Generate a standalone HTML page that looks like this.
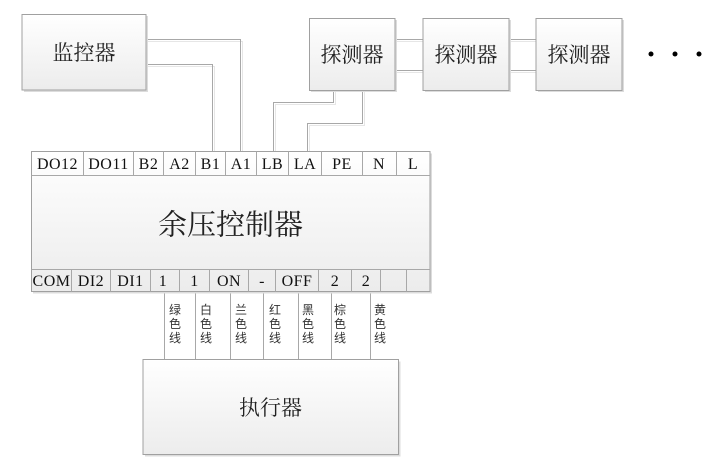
<!DOCTYPE html>
<html><head><meta charset="utf-8">
<style>
html,body{margin:0;padding:0;background:#fff;}
svg{display:block;}
.t{font-family:"Liberation Serif","Noto Serif CJK SC",serif;font-size:16px;fill:#111;text-anchor:middle;letter-spacing:0.5px;}
.c{font-family:"Noto Serif CJK SC","Noto Serif CJK JP","Noto Serif CJK","Liberation Serif",serif;fill:#222;text-anchor:middle;dominant-baseline:central;}
.w{font-family:"Liberation Sans","Noto Sans CJK SC",sans-serif;font-size:12px;fill:#333;}
</style></head>
<body>
<svg width="720" height="468" viewBox="0 0 720 468" xmlns="http://www.w3.org/2000/svg">
<defs>
<linearGradient id="g" x1="0" y1="0" x2="0" y2="1">
<stop offset="0" stop-color="#ffffff"/>
<stop offset="1" stop-color="#ececec"/>
</linearGradient>
</defs>

<!-- wire shadows -->
<g fill="none" stroke="#e6e6e6" stroke-width="1">
<path d="M148,41.5 H242.5 V151"/>
<path d="M148,66.5 H214.5 V151"/>
<path d="M335.5,92 V104.5 H275.5 V151"/>
<path d="M364.5,92 V125.5 H309.5 V151"/>
<path d="M397,41.5 H423 M397,72.5 H423 M511,41.5 H536 M511,72.5 H536"/>
</g>
<!-- wires -->
<g fill="none" stroke="#a8a8a8" stroke-width="1">
<path d="M146,39.5 H240.5 V151"/>
<path d="M146,64.5 H212.5 V151"/>
<path d="M333.5,90 V102.5 H273.5 V151"/>
<path d="M362.5,90 V123.5 H307.5 V151"/>
<path d="M395,39.5 H423 M395,70.5 H423 M509,39.5 H536 M509,70.5 H536"/>
<path d="M164.5,292 V359 M195.5,292 V359 M230.5,292 V359 M263.5,292 V359 M298.5,292 V359 M331.5,292 V359 M370.5,292 V359"/>
</g>

<!-- box shadows -->
<g fill="#dcdcdc">
<rect x="24" y="16" width="124" height="76"/>
<rect x="311" y="20" width="86" height="72"/>
<rect x="425" y="20" width="86" height="72"/>
<rect x="538" y="20" width="86" height="72"/>
<rect x="33" y="153.5" width="399" height="140"/>
<rect x="145" y="361.5" width="255.5" height="95"/>
</g>

<!-- boxes -->
<g fill="url(#g)" stroke="#a0a0a0" stroke-width="1">
<rect x="22" y="14.5" width="124" height="75.5"/>
<rect x="309.5" y="18.5" width="85.5" height="72"/>
<rect x="423" y="18.5" width="86" height="72"/>
<rect x="536" y="18.5" width="86" height="72"/>
<rect x="31.5" y="151.5" width="398.5" height="140"/>
<rect x="143" y="359.5" width="255.5" height="95"/>
</g>

<!-- terminal rows -->
<g fill="none" stroke="#a8a8a8" stroke-width="1">
<path d="M31.5,175.5 H430 M31.5,269.5 H430"/>
<path d="M83.5,151.5 V175.5 M133.5,151.5 V175.5 M163.5,151.5 V175.5 M195.5,151.5 V175.5 M225.5,151.5 V175.5 M256.5,151.5 V175.5 M288.5,151.5 V175.5 M321.5,151.5 V175.5 M362.5,151.5 V175.5 M396.5,151.5 V175.5"/>
<path d="M71.5,269.5 V291.5 M110.5,269.5 V291.5 M150.5,269.5 V291.5 M179.5,269.5 V291.5 M209.5,269.5 V291.5 M248.5,269.5 V291.5 M275.5,269.5 V291.5 M318.5,269.5 V291.5 M351.5,269.5 V291.5 M380.5,269.5 V291.5 M406.5,269.5 V291.5"/>
</g>

<g class="t">
<text x="57.5" y="169">DO12</text>
<text x="108.5" y="169">DO11</text>
<text x="148.5" y="169">B2</text>
<text x="179.5" y="169">A2</text>
<text x="210.5" y="169">B1</text>
<text x="241" y="169">A1</text>
<text x="272.5" y="169">LB</text>
<text x="305" y="169">LA</text>
<text x="342" y="169">PE</text>
<text x="379" y="169">N</text>
<text x="413" y="169">L</text>

<text x="51.5" y="286">COM</text>
<text x="91" y="286">DI2</text>
<text x="130.5" y="286">DI1</text>
<text x="163" y="286">1</text>
<text x="194.5" y="286">1</text>
<text x="229" y="286">ON</text>
<text x="262" y="286">-</text>
<text x="297" y="286">OFF</text>
<text x="335" y="286">2</text>
<text x="366" y="286">2</text>
</g>

<g class="c">
<text x="84" y="52" font-size="21">监控器</text>
<text x="352" y="54" font-size="21">探测器</text>
<text x="466" y="54" font-size="21">探测器</text>
<text x="579" y="54" font-size="21">探测器</text>
<text x="230.5" y="223" font-size="29">余压控制器</text>
<text x="270.5" y="407" font-size="21">执行器</text>
</g>

<g fill="#000">
<circle cx="651" cy="54" r="2.5"/>
<circle cx="675" cy="54" r="2.5"/>
<circle cx="699" cy="54" r="2.5"/>
</g>

<g class="w">
<text x="169" y="314">绿</text><text x="169" y="328">色</text><text x="169" y="342">线</text>
<text x="200" y="314">白</text><text x="200" y="328">色</text><text x="200" y="342">线</text>
<text x="235" y="314">兰</text><text x="235" y="328">色</text><text x="235" y="342">线</text>
<text x="269" y="314">红</text><text x="269" y="328">色</text><text x="269" y="342">线</text>
<text x="302" y="314">黑</text><text x="302" y="328">色</text><text x="302" y="342">线</text>
<text x="334" y="314">棕</text><text x="334" y="328">色</text><text x="334" y="342">线</text>
<text x="374" y="314">黄</text><text x="374" y="328">色</text><text x="374" y="342">线</text>
</g>
</svg>
</body></html>
